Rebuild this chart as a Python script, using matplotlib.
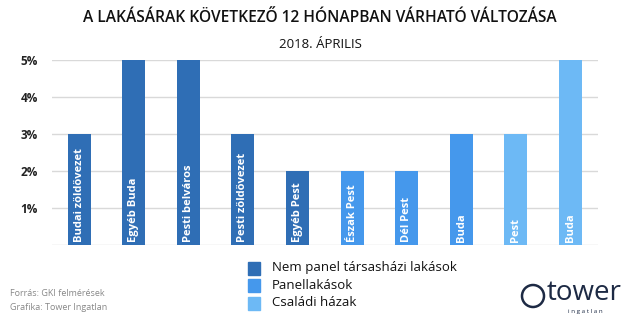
import matplotlib.pyplot as plt
from matplotlib.patches import Rectangle, Ellipse

categories = ['Budai zöldövezet', 'Egyéb Buda', 'Pesti belváros', 'Pesti zöldövezet',
              'Egyéb Pest', 'Észak Pest', 'Dél Pest', 'Buda', 'Pest', 'Buda']
values = [3, 5, 5, 3, 2, 2, 2, 3, 3, 5]
groups = [0, 0, 0, 0, 0, 1, 1, 1, 2, 2]
group_names = ['Nem panel társasházi lakások', 'Panellakások', 'Családi házak']
group_colors = ['#2F6EB5', '#4598EC', '#6DB9F5']
yticks = [1, 2, 3, 4, 5]

plt.rcParams['font.family'] = ['Open Sans', 'DejaVu Sans']

fig = plt.figure(figsize=(6.4, 3.2), dpi=100)
ax = fig.add_axes([0.081, 0.234, 0.853, 0.578])

x = range(len(categories))
colors = [group_colors[g] for g in groups]
ax.bar(x, values, width=0.42, color=colors, zorder=3)

for i, (c, v) in enumerate(zip(categories, values)):
    ax.text(i, 0.08, c, rotation=90, ha='center', va='bottom', color='white',
            fontsize=8, fontweight='bold', zorder=4)

ax.set_xlim(-0.5, len(categories) - 0.5)
ax.set_ylim(0, 5)
ax.set_yticks([0] + yticks)
ax.set_yticklabels([''] + [f'{t}%' for t in yticks], fontsize=8.5, fontweight='bold', color='#222222')
ax.set_xticks([])
ax.grid(axis='y', color='#d9d9d9', linewidth=1, zorder=0)
ax.tick_params(axis='y', length=0, pad=10)
for s in ax.spines.values():
    s.set_visible(False)

fig.text(0.5, 0.945, 'A LAKÁSÁRAK KÖVETKEZŐ 12 HÓNAPBAN VÁRHATÓ VÁLTOZÁSA',
         ha='center', va='center', fontsize=11.2, fontweight='semibold', color='#111111')
fig.text(0.5, 0.862, '2018. ÁPRILIS', ha='center', va='center', fontsize=9.5, color='#111111')

# legend
for k, (name, col) in enumerate(zip(group_names, group_colors)):
    yc = 1 - (268 + k * 17.5) / 320
    fig.patches.append(Rectangle((248 / 640, yc - 6.5 / 320), 12 / 640, 13 / 320,
                                 transform=fig.transFigure, color=col))
    fig.text(272 / 640, yc, name, ha='left', va='center', fontsize=9.5, color='#111111')

fig.text(10 / 640, 1 - 294 / 320, 'Forrás: GKI felmérések', fontsize=6.5, color='#888888', va='center')
fig.text(10 / 640, 1 - 307 / 320, 'Grafika: Tower Ingatlan', fontsize=6.5, color='#888888', va='center')

# logo
fig.patches.append(Ellipse((533 / 640, 1 - 296 / 320), 22 / 640, 22 / 320, transform=fig.transFigure,
                           fill=False, edgecolor='#1d2a44', linewidth=1.8))
fig.text(547 / 640, 1 - 293 / 320, 'tower', fontsize=20, color='#1d2a44', va='center', ha='left')
fig.text(568 / 640, 1 - 311 / 320, 'i n g a t l a n', fontsize=4.5, color='#1d2a44', va='center', ha='left')

fig.savefig('out.png', dpi=100)
